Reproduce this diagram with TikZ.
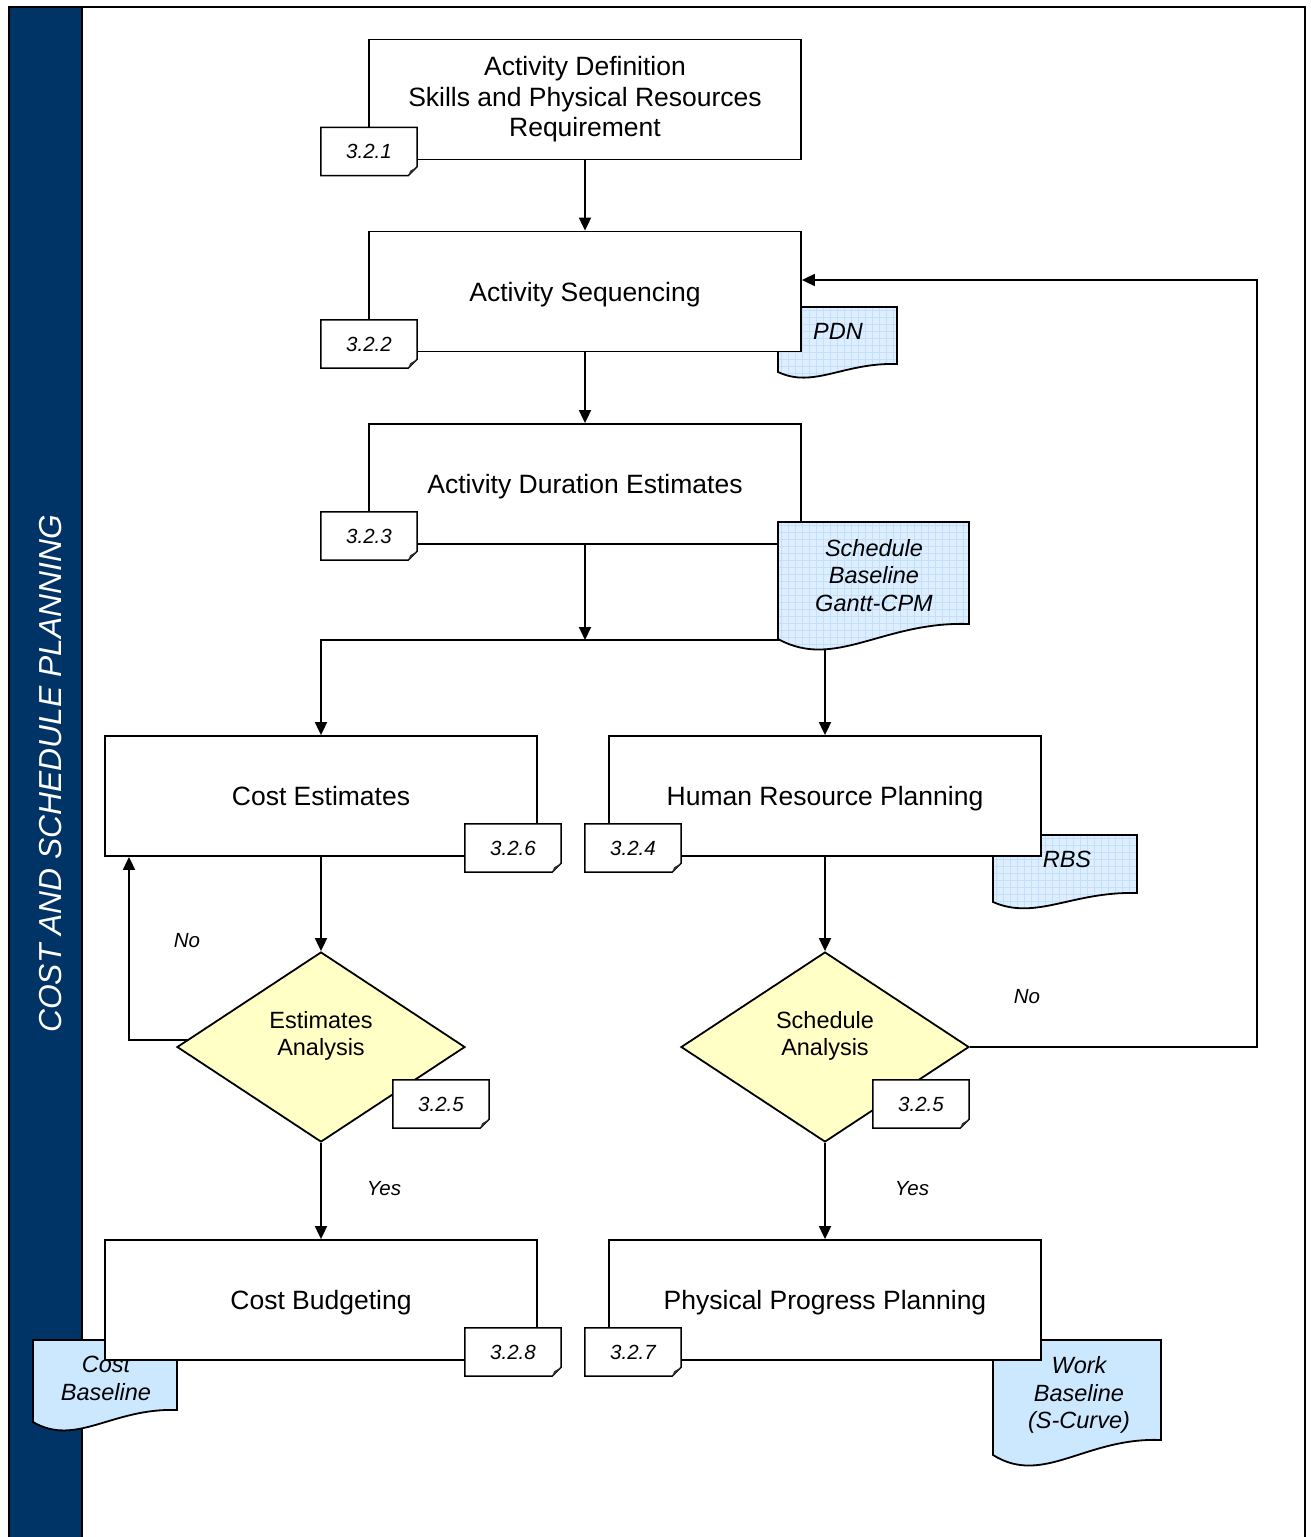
\documentclass[tikz,border=0pt]{standalone}
\usepackage{fontspec}
\setmainfont{Liberation Sans}
\usetikzlibrary{shapes.geometric,arrows.meta}

\definecolor{band}{HTML}{003366}
\definecolor{docplain}{HTML}{CCE8FF}
\definecolor{docbase}{HTML}{DCEEFF}
\definecolor{docgrid}{HTML}{C3E0F8}
\definecolor{decision}{HTML}{FFFFC6}

% outline of a flowchart "document" shape: x0, y0 (top), x1, bottom-left y, wave depth
\newcommand\docclip[5]{\clip (#1,#2) -- (#3,#2) -- (#3,{#4-#5}) .. controls ({#1+0.55*(#3-#1)},{#4-1.2*#5}) and ({#1+0.3*(#3-#1)},{#4+2.1*#5}) .. (#1,#4) -- cycle;}
\newcommand\docline[5]{\draw[line] (#1,#2) -- (#3,#2) -- (#3,{#4-#5}) .. controls ({#1+0.55*(#3-#1)},{#4-1.2*#5}) and ({#1+0.3*(#3-#1)},{#4+2.1*#5}) .. (#1,#4) -- cycle;}
\newcommand\griddoc[5]{%
  \begin{scope}\docclip{#1}{#2}{#3}{#4}{#5}
    \fill[docbase] (#1,#2) rectangle (#3,{#4+3*#5});
    \foreach \k in {0,...,30}{%
      \draw[docgrid, line width=0.5pt] ({#1+3+7*\k},#2) -- ++(0,200);
      \draw[docgrid, line width=0.5pt] (#1,{#2+3+7*\k}) -- ++(220,0);}
  \end{scope}
  \docline{#1}{#2}{#3}{#4}{#5}}
\newcommand\plaindoc[5]{%
  \begin{scope}\docclip{#1}{#2}{#3}{#4}{#5}
    \fill[docplain] (#1,#2) rectangle (#3,{#4+3*#5});
  \end{scope}
  \docline{#1}{#2}{#3}{#4}{#5}}
% reference tag with a folded corner
\newcommand\tagframe[1]{%
  \draw[line width=1.5pt, line join=miter] (#1.north west) -- (#1.north east) -- ([yshift=9pt]#1.south east) -- ([xshift=-9pt]#1.south east) -- (#1.south west) -- cycle;
  \fill[black!80] ([xshift=-9pt]#1.south east) -- ([yshift=9pt]#1.south east) -- ([xshift=-7pt,yshift=5pt]#1.south east) -- cycle;}

\begin{document}
\begin{tikzpicture}[x=1pt,y=-1pt,
  line/.style={line width=1.8pt, draw=black},
  arr/.style={line, -{Triangle[length=13pt,width=12pt]}},
  box/.style={draw, line width=1.8pt, fill=white, minimum width=432pt, minimum height=120pt,
    inner sep=0pt, align=center, font=\fontsize{26.5}{30.5}\selectfont},
  one/.style={text height=19pt, text depth=0pt},
  diam/.style={diamond, draw, line width=1.8pt, fill=decision, aspect=1.516,
    minimum width=288pt, minimum height=190pt, inner sep=0pt},
  dtxt/.style={align=center, inner sep=0pt, font=\fontsize{23.5}{27}\selectfont},
  doctxt/.style={align=center, inner sep=0pt, font=\fontsize{23.5}{27.5}\selectfont\itshape},
  tag/.style={minimum width=96pt, minimum height=48pt, fill=white, inner sep=0pt,
    text height=14.8pt, text depth=0pt, font=\fontsize{20.5}{23}\selectfont\itshape},
  yn/.style={inner sep=0pt, font=\fontsize{20.5}{23}\selectfont\itshape}]

\clip (0,0) rectangle (1310,1537);

% page frame and side band
\fill[band] (9,7) rectangle (81.5,1545);
\draw[line width=2pt] (9,1545) -- (9,7) -- (1305,7) -- (1305,1545);
\draw[line width=2pt] (81.5,7) -- (81.5,1545);
\node[rotate=90, text=white, inner sep=0pt, text height=23pt, text depth=0pt,
  font=\fontsize{31.8}{34}\selectfont\itshape] (title) at (49.5,774) {COST AND SCHEDULE PLANNING};

% documents lying under the process boxes
\griddoc{778}{307}{897}{372}{8}
\node[doctxt] (pdn) at (838,331) {PDN};
\griddoc{993}{835}{1137}{902}{9}
\node[doctxt] (rbs) at (1067,859) {RBS};
\plaindoc{33}{1340}{177}{1422}{12}
\node[doctxt] (cbl) at (106,1378.5) {Cost\\Baseline};
\plaindoc{993}{1340}{1161}{1455}{15}
\node[doctxt] (wbl) at (1079,1395) {Work\\Baseline\\(S-Curve)};

% process boxes
\node[box] (ad) at (585,99.5) {Activity Definition\\Skills and Physical Resources\\Requirement};
\node[box, one] (as) at (585,291.5) {Activity Sequencing};
\node[box, one] (ade) at (585,484) {Activity Duration Estimates};
\node[box, one] (ce) at (321,796) {Cost Estimates};
\node[box, one] (hr) at (825,796) {Human Resource Planning};
\node[box, one] (cb) at (321,1300) {Cost Budgeting};
\node[box, one] (pp) at (825,1300) {Physical Progress Planning};

% decisions
\node[diam] (ea) at (321,1047) {};
\node[dtxt] (ea-t) at (321,1036) {Estimates\\Analysis};
\node[diam] (sa) at (825,1047) {};
\node[dtxt] (sa-t) at (825,1036) {Schedule\\Analysis};

% flow
\coordinate (jn) at (585,640);
\draw[arr] (ad.south) -- (as.north);
\draw[arr] (as.south) -- (ade.north);
\draw[arr] (ade.south) -- (jn);
\draw[arr] (jn) -| (ce.north);
\draw[arr] (jn) -| (hr.north);
\draw[arr] (ce.south) -- (ea.north);
\draw[arr] (hr.south) -- (sa.north);
\draw[arr] (ea.south) -- (cb.north);
\draw[arr] (sa.south) -- (pp.north);

% rework loops
\coordinate (lstart) at (188,1040);
\coordinate (lloop) at (129,1040);
\draw[arr] (lstart) -- (lloop) -- (lloop |- ce.south);
\coordinate (rloop) at (1257,280);
\draw[arr] (sa.east) -- (sa.east -| rloop) -- (rloop) -- (rloop -| as.east);

\node[yn] (no1) at (187,941) {No};
\node[yn] (no2) at (1027,997) {No};
\node[yn] (yes1) at (384,1189) {Yes};
\node[yn] (yes2) at (912,1189) {Yes};

% schedule baseline document lies over its box
\griddoc{778}{522}{969}{639}{15}
\node[doctxt] (sbl) at (874,575.5) {Schedule\\Baseline\\Gantt-CPM};

% reference tags
\node[tag] (t1) at (369,151.5) {3.2.1}; \tagframe{t1}
\node[tag] (t2) at (369,344) {3.2.2}; \tagframe{t2}
\node[tag] (t3) at (369,536) {3.2.3}; \tagframe{t3}
\node[tag] (t6) at (513,848) {3.2.6}; \tagframe{t6}
\node[tag] (t4) at (633,848) {3.2.4}; \tagframe{t4}
\node[tag] (t5a) at (441,1104) {3.2.5}; \tagframe{t5a}
\node[tag] (t5b) at (921,1104) {3.2.5}; \tagframe{t5b}
\node[tag] (t8) at (513,1352) {3.2.8}; \tagframe{t8}
\node[tag] (t7) at (633,1352) {3.2.7}; \tagframe{t7}
\end{tikzpicture}
\end{document}
